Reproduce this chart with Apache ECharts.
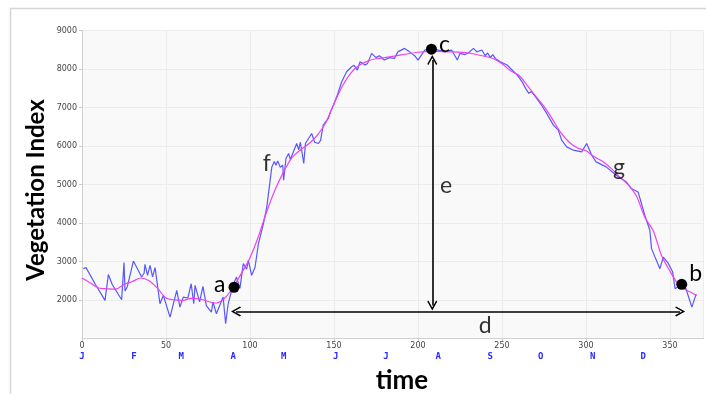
<!DOCTYPE html>
<html>
<head>
<meta charset="utf-8">
<script src="https://cdn.jsdelivr.net/npm/echarts@6/dist/echarts.min.js"></script>
<style>
html,body{margin:0;padding:0;background:#fff;}
#chart{width:706px;height:394px;}
</style>
</head>
<body>
<div id="chart"></div>
<script>
// ---- data ----
const rawDays = [0.8,2.4,8,13.7,15.7,18,23.6,24.5,25,25.6,27,30.6,35.5,37,37.5,39,40.5,42,43.5,46.4,48.4,52.4,56.4,58.3,60.3,63,65,66.5,67.3,70,72,74,77,78,80,84,85.5,87,90,92,94,96,98,99,101,103,105,108,110,113,114.5,115.5,116.5,118,119.5,120,121.4,123,124,127.8,129,130,132,133,136.7,138.5,140.7,142,143.6,146.6,148,149.5,151.6,154.6,157.5,160.5,162,163.9,165.5,168.5,170,172.4,175,177,180,183,186,188,189,192,195,198,200,204,207,210,212,216,220,223.4,225,228,230,233,235,238,240,241.5,243,244.5,246,249,253,256,259,262,264,266,267.5,270,273,276.6,280.6,283.5,285.5,288.5,292.5,297.4,300.4,303.4,306,312,318,324,327,331,335,338,339,344,346,349,351.6,353,355,357,359.5,363,365.5];
const rawValues = [2813,2840,2400,1990,2660,2400,2005,2000,2970,2230,2350,3010,2595,2700,2925,2640,2900,2600,2840,1900,2117,1553,2248,1813,2074,2050,2422,1900,2378,1950,2350,1850,1683,1944,1640,2074,1380,1900,2400,2595,2300,2943,2800,3030,2640,2850,3460,3985,4420,5459,5600,5500,5615,5450,5500,5112,5677,5807,5650,6068,5900,6100,5547,6068,6328,6100,6068,6150,6544,6719,6900,7050,7281,7672,7932,8063,8100,7977,8193,8107,8150,8411,8300,8350,8237,8300,8280,8450,8497,8540,8450,8350,8237,8497,8530,8520,8497,8450,8497,8237,8411,8380,8420,8540,8450,8497,8350,8420,8300,8380,8280,8193,8107,7977,7850,7672,7500,7370,7420,7281,7100,6849,6544,6414,6154,5979,5893,5850,6068,5763,5589,5459,5242,5068,4896,4808,4201,3811,3334,2813,3115,2950,2724,2292,2350,2420,2292,1813,2144];

const smoothDays = [0,5,10,15,20,25,30,35,40,45,50,55,60,65,70,75,80,85,90,95,100,105,110,115,120,125,130,135,140,145,150,155,160,165,170,175,180,190,200,210,220,230,240,245,250,255,260,265,270,275,280,285,290,295,300,305,310,315,320,325,330,335,340,345,350,355,360,366];
const smoothValues = [2570,2440,2310,2290,2280,2400,2480,2570,2500,2300,2050,2000,1990,2040,2030,1960,1920,2050,2330,2700,3100,3650,4300,4870,5330,5700,5900,6060,6280,6600,7100,7560,7900,8100,8210,8270,8300,8370,8440,8460,8450,8420,8330,8270,8140,7960,7840,7580,7300,7030,6700,6350,6100,5950,5880,5720,5600,5420,5200,5000,4700,4150,3800,3150,2750,2400,2250,2120];

const monthStarts = [0,31,59,90,120,151,181,212,243,273,304,334];
const monthLetters = ['J','F','M','A','M','J','J','A','S','O','N','D'];

const pointNames = ['a','b','c'];
const pointDays = [90.5,357,208];
const pointValues = [2330,2405,8520];

const textNames = ['f','g','e','d'];
const textDays = [110,319.6,216.7,240];
const textValues = [5555,5451,4982,1336];

const arrowE = [[208.5,8237],[208.5,1857]];
const arrowD = [[91.7,1701],[356,1701]];

const xTicks = {min:0, max:370, interval:50};
const yTicks = {min:1000, max:9000, interval:1000};

// ---- chart ----
const chart = echarts.init(document.getElementById('chart'), null, {renderer:'canvas'});
const pair = (a,b) => a.map((d,i)=>[d,b[i]]);
const chevron = 'path://M5,0 L10,8 L8.9,9 L5,2.6 L1.1,9 L0,8 Z';
const letterFont = {fontFamily:'Lato', fontSize:23, color:'#000'};
const pointLabelPos = [
  {position:'left', distance:3, offset:[0,-3]},
  {position:'right', distance:2, offset:[0,-11]},
  {position:'right', distance:2, offset:[0,-5]}
];

chart.setOption({
  animation:false,
  backgroundColor:'#fff',
  grid:{left:82, top:30.7, right:2.4, bottom:55.6, show:true, backgroundColor:'#f9f9f9', borderWidth:0},
  xAxis:[{
    type:'value', min:xTicks.min, max:xTicks.max, interval:xTicks.interval,
    axisLine:{show:true, onZero:false, lineStyle:{color:'#d0d0d0'}},
    axisTick:{show:true, length:3, lineStyle:{color:'#ccc'}},
    splitLine:{show:true, lineStyle:{color:'#ececec'}},
    axisLabel:{fontSize:8, color:'#444', margin:4, showMaxLabel:false, fontFamily:'DejaVu Sans'}
  },{
    type:'value', min:xTicks.min, max:xTicks.max, position:'bottom', offset:14,
    axisLine:{show:false}, axisTick:{show:false}, splitLine:{show:false},
    axisLabel:{
      customValues: monthStarts,
      formatter: v => monthLetters[monthStarts.indexOf(v)] || '',
      fontSize:9, fontWeight:'bold', color:'#2a2aff', margin:0, fontFamily:'DejaVu Sans Mono'
    }
  }],
  yAxis:{
    type:'value', min:yTicks.min, max:yTicks.max, interval:yTicks.interval,
    axisLine:{show:true, lineStyle:{color:'#d0d0d0'}},
    axisTick:{show:true, length:3, lineStyle:{color:'#ccc'}},
    splitLine:{show:true, lineStyle:{color:'#ececec'}},
    axisLabel:{fontSize:8, color:'#444', margin:5, showMinLabel:false, fontFamily:'DejaVu Sans', formatter: v => String(v)}
  },
  series:[{
    type:'line', name:'raw', data:pair(rawDays,rawValues), showSymbol:false,
    lineStyle:{color:'#4646ff', width:1.2, opacity:0.9}, z:2
  },{
    type:'line', name:'smooth', data:pair(smoothDays,smoothValues), showSymbol:false, smooth:0.3,
    lineStyle:{color:'#f040f0', width:1.2}, z:3,
    markLine:{
      silent:true, symbol:[chevron, chevron], symbolSize:[10,10],
      lineStyle:{color:'#000', width:1.6, type:'solid'}, label:{show:false},
      data:[
        [{coord:arrowE[0]},{coord:arrowE[1]}],
        [{coord:arrowD[0]},{coord:arrowD[1]}]
      ]
    }
  },{
    type:'scatter',
    data:pair(pointDays,pointValues).map((p,i)=>({value:p, name:pointNames[i], label:pointLabelPos[i]})),
    symbolSize:11, itemStyle:{color:'#000', opacity:1}, z:5,
    label:{show:true, formatter:p=>p.name, ...letterFont}
  },{
    type:'scatter', data:pair(textDays,textValues).map((p,i)=>({value:p, name:textNames[i]})),
    symbolSize:0, z:5,
    label:{show:true, formatter:p=>p.name, ...letterFont, position:'inside'}
  }],
  graphic:[
    {type:'rect', shape:{x:10.5, y:8.5, width:720, height:420}, style:{fill:null, stroke:'#d6d6d6', lineWidth:1.5}, silent:true, z:-1},
    {type:'text', x:36, y:190, rotation:Math.PI/2,
      style:{text:'Vegetation Index', fontFamily:'Lato', fontWeight:'bold', fontSize:24, fill:'#000', align:'center', verticalAlign:'middle'}},
    {type:'text', x:402, y:381,
      style:{text:'time', fontFamily:'Lato', fontWeight:'bold', fontSize:26, fill:'#000', align:'center', verticalAlign:'middle'}}
  ]
});
</script>
</body>
</html>
